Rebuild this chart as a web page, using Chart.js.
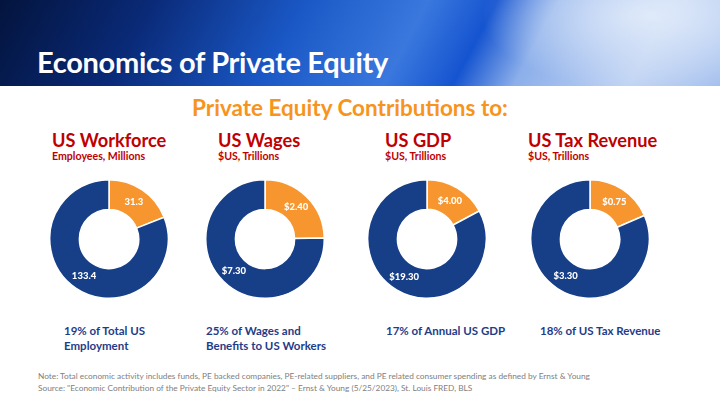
<!DOCTYPE html>
<html>
<head>
<meta charset="utf-8">
<script src="https://cdn.jsdelivr.net/npm/chart.js@4"></script>
<style>
  html, body { margin: 0; padding: 0; }
  body { width: 720px; height: 405px; position: relative; overflow: hidden; background: #fff; font-family: Lato, "Open Sans", sans-serif; }
  .header {
    position: absolute; left: 0; top: 0; width: 720px; height: 86px;
    background:
      radial-gradient(ellipse 240px 110px at 650px 15px, rgba(225,235,250,0.95), rgba(225,235,250,0) 70%),
      linear-gradient(118deg, #03143d 0%, #0a2a78 20%, #1a58c6 40%, #3a78de 56%, #1554d0 65%, #8cafea 73%, #c0d3f3 88%, #a5c0ee 100%);
  }
  .header h1 { position: absolute; left: 37px; top: 44px; margin: 0; color: #fff; font-size: 29px; font-weight: 700; letter-spacing: -0.3px; }
  .sub { position: absolute; left: 0; width: 700px; top: 94px; text-align: center; color: #F7941D; font-size: 22.5px; font-weight: 700; }
  .col h2 { position: absolute; margin: 0; color: #C00000; font-size: 18.2px; font-weight: 700; white-space: nowrap; }
  .col h3 { position: absolute; margin: 0; color: #C00000; font-size: 10.6px; font-weight: 700; white-space: nowrap; }
  .donut { position: absolute; width: 120px; height: 120px; }
  .cap { position: absolute; color: #1F3C88; font-size: 11.5px; font-weight: 700; line-height: 15px; white-space: nowrap; }
  .note { position: absolute; left: 38px; top: 371px; color: #808080; font-size: 8.3px; line-height: 11.5px; white-space: nowrap; }
</style>
</head>
<body>
<div class="header"><h1>Economics of Private Equity</h1></div>
<div class="sub">Private Equity Contributions to:</div>
<div id="cols"></div>
<div class="note">Note: Total economic activity includes funds, PE backed companies, PE-related suppliers, and PE related consumer spending as defined by Ernst &amp; Young<br>Source: "Economic Contribution of the Private Equity Sector in 2022" – Ernst &amp; Young (5/25/2023), St. Louis FRED, BLS</div>

<script>
const titles = ["US Workforce", "US Wages", "US GDP", "US Tax Revenue"];
const subtitles = ["Employees, Millions", "$US, Trillions", "$US, Trillions", "$US, Trillions"];
const peValues = [31.3, 2.40, 4.00, 0.75];
const restValues = [133.4, 7.30, 19.30, 3.30];
const peLabels = ["31.3", "$2.40", "$4.00", "$0.75"];
const restLabels = ["133.4", "$7.30", "$19.30", "$3.30"];
const captions = ["19% of Total US<br>Employment", "25% of Wages and<br>Benefits to US Workers", "17% of Annual US GDP", "18% of US Tax Revenue"];

// layout
const titleX = [52, 218, 385, 528];
const centerX = [109, 265, 427, 590];
const centerY = 239;
const capX = [64, 206, 386, 540];

const orange = "#F7962E";
const navy = "#173F88";

// draws the value text at each arc's centroid
const arcLabels = {
  id: "arcLabels",
  afterDatasetsDraw(chart) {
    const { ctx } = chart;
    const meta = chart.getDatasetMeta(0);
    const texts = chart.data.labels;
    ctx.save();
    ctx.fillStyle = "#fff";
    ctx.font = "900 9.5px Lato, sans-serif";
    ctx.textAlign = "center";
    ctx.textBaseline = "middle";
    meta.data.forEach((arc, i) => {
      const p = arc.tooltipPosition();
      ctx.fillText(texts[i], p.x, p.y);
    });
    ctx.restore();
  }
};

const cols = document.getElementById("cols");
titles.forEach((t, i) => {
  const col = document.createElement("div");
  col.className = "col";
  col.innerHTML =
    `<h2 style="left:${titleX[i]}px;top:129px">${t}</h2>` +
    `<h3 style="left:${titleX[i]}px;top:150px">${subtitles[i]}</h3>` +
    `<div class="donut" style="left:${centerX[i] - 60}px;top:${centerY - 60}px"><canvas></canvas></div>` +
    `<div class="cap" style="left:${capX[i]}px;top:323px">${captions[i]}</div>`;
  cols.appendChild(col);

  new Chart(col.querySelector("canvas"), {
    type: "doughnut",
    data: {
      labels: [peLabels[i], restLabels[i]],
      datasets: [{
        data: [peValues[i], restValues[i]],
        backgroundColor: [orange, navy],
        borderColor: "#fff",
        borderWidth: 1.5
      }]
    },
    options: {
      responsive: true,
      maintainAspectRatio: false,
      animation: false,
      cutout: "50%",
      layout: { padding: 0 },
      plugins: { legend: { display: false }, tooltip: { enabled: false } }
    },
    plugins: [arcLabels]
  });
});
</script>
</body>
</html>
